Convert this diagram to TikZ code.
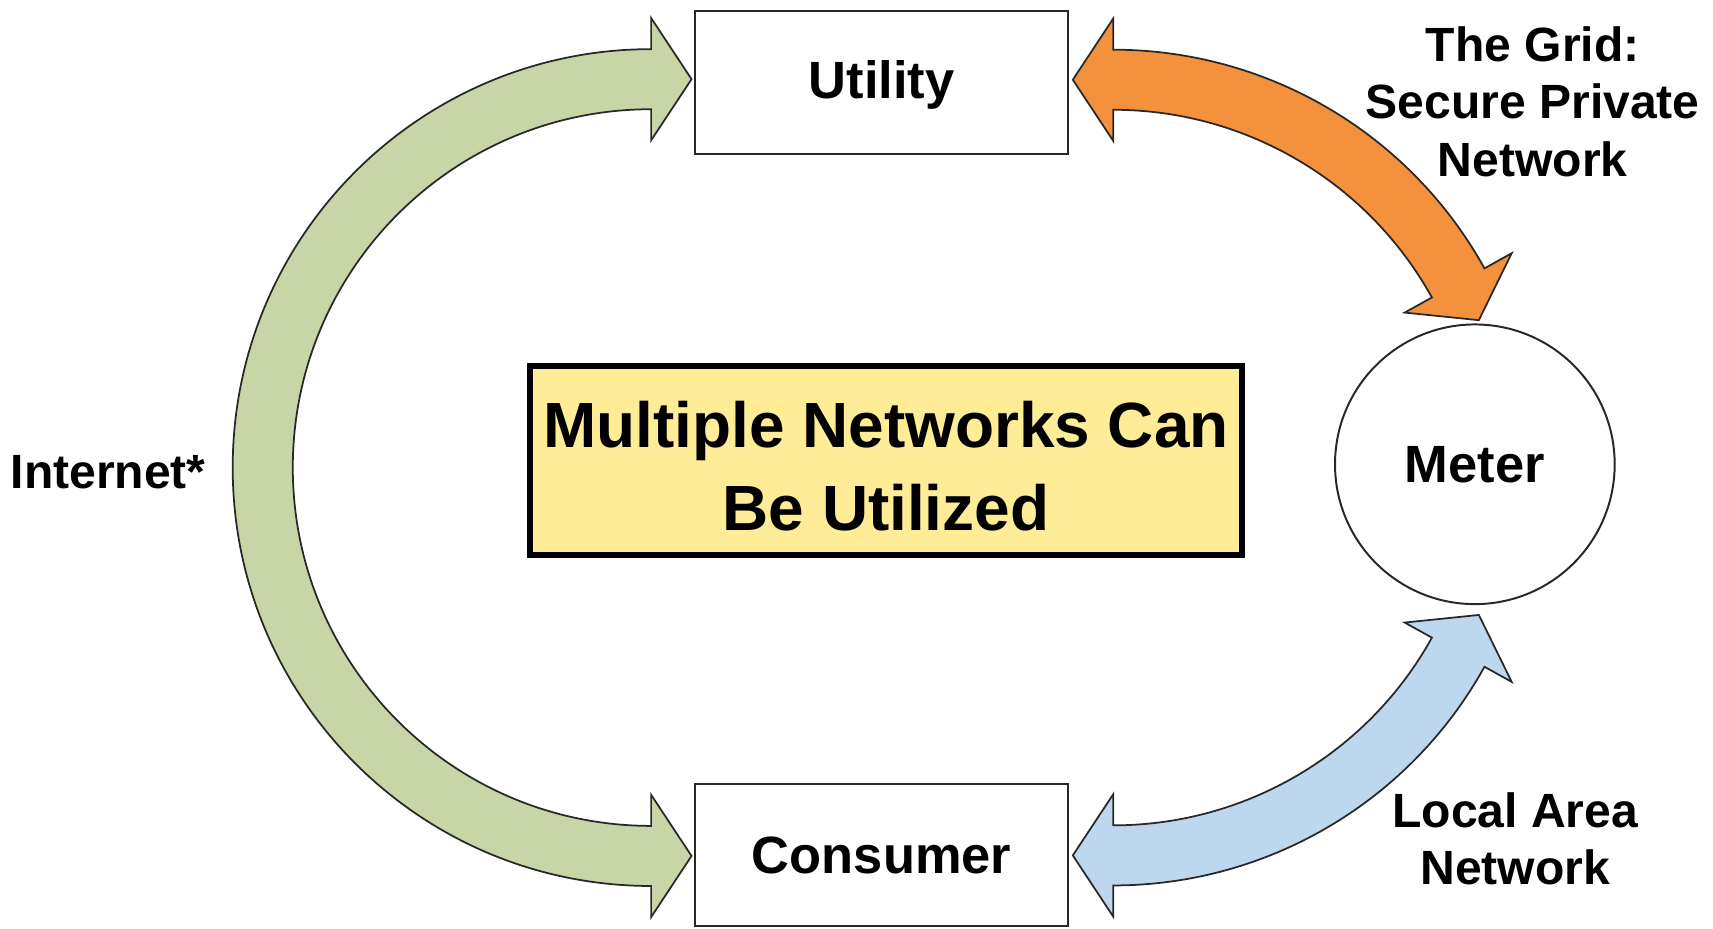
\documentclass[tikz,border=0pt]{standalone}
\usepackage{fontspec}
\setmainfont{Liberation Sans}
\usetikzlibrary{calc}
\definecolor{arrowgreen}{RGB}{200,213,166}
\definecolor{arroworange}{RGB}{244,145,60}
\definecolor{arrowblue}{RGB}{189,215,238}
\definecolor{noteyellow}{RGB}{255,236,150}
\definecolor{edgegray}{RGB}{40,40,40}
\tikzset{
  bigarrow/.style={draw=edgegray, line width=1.6pt, line join=miter},
  endbox/.style={draw=edgegray, line width=1.8pt, fill=white, minimum width=342pt,
    minimum height=131pt, inner sep=0pt, outer sep=0pt,
    font=\fontsize{48}{56}\selectfont\bfseries},
  meterdisc/.style={circle, draw=edgegray, line width=1.8pt, fill=white, minimum size=256pt,
    inner sep=0pt, outer sep=0pt, font=\fontsize{48}{56}\selectfont\bfseries},
  notebox/.style={draw=black, line width=6pt, fill=noteyellow, minimum width=652pt,
    minimum height=173pt, inner sep=0pt, align=center,
    font=\fontsize{58.5}{76}\selectfont\bfseries},
  netlabel/.style={align=center, inner sep=0pt, font=\fontsize{44}{52.5}\selectfont\bfseries}
}
\begin{document}
\begin{tikzpicture}[x=1pt,y=1pt]
\useasboundingbox (0,0) rectangle (1568,850);
\fill[white] (0,0) rectangle (1568,850);

% centres of the curved arrows
\coordinate (gc) at (596,422);
\coordinate (oc) at (1019,416);
\coordinate (bc) at (1019,428);

% green: Internet
\draw[bigarrow, fill=arrowgreen]
  ($(gc)+(90:383pt)$) arc[start angle=90, end angle=270, radius=383pt]
  -- ($(gc)+(270:411.5pt)$) -- ($(gc)+(270:355.5pt)+(0:37pt)$) -- ($(gc)+(270:299.5pt)$)
  -- ($(gc)+(270:328pt)$) arc[start angle=270, end angle=90, radius=328pt]
  -- ($(gc)+(90:299.5pt)$) -- ($(gc)+(90:355.5pt)+(0:37pt)$) -- ($(gc)+(90:411.5pt)$) -- cycle;

% orange: the grid
\draw[bigarrow, fill=arroworange]
  ($(oc)+(90:388.5pt)$) arc[start angle=90, end angle=29, radius=388.5pt]
  -- ($(oc)+(29:417pt)$) -- ($(oc)+(29:361pt)+(-61:39pt)$) -- ($(oc)+(29:305pt)$)
  -- ($(oc)+(29:333.5pt)$) arc[start angle=29, end angle=90, radius=333.5pt]
  -- ($(oc)+(90:305pt)$) -- ($(oc)+(90:361pt)+(180:37pt)$) -- ($(oc)+(90:417pt)$) -- cycle;

% blue: local area network
\draw[bigarrow, fill=arrowblue]
  ($(bc)+(270:388.5pt)$) arc[start angle=270, end angle=331, radius=388.5pt]
  -- ($(bc)+(331:417pt)$) -- ($(bc)+(331:361pt)+(61:39pt)$) -- ($(bc)+(331:305pt)$)
  -- ($(bc)+(331:333.5pt)$) arc[start angle=331, end angle=270, radius=333.5pt]
  -- ($(bc)+(270:305pt)$) -- ($(bc)+(270:361pt)+(180:37pt)$) -- ($(bc)+(270:417pt)$) -- cycle;

% nodes
\node[endbox] (utility) at (807,774.5) {\rule{0pt}{40pt}Utility};
\node[endbox, minimum height=130pt] (consumer) at (807,67) {Consumer};
\node[meterdisc] (meter) at (1350,425) {Meter};
\node[notebox] (note) at (811,428.5) {\rule{0pt}{53pt}Multiple Networks Can\\Be Utilized};

% labels
\node[netlabel] (gridlabel) at (1403,757) {The Grid:\\Secure Private\\Network};
\node[netlabel] (netlabel) at (99,418) {Internet*};
\node[netlabel] (lanlabel) at (1387,82) {Local Area\\Network};
\end{tikzpicture}
\end{document}
